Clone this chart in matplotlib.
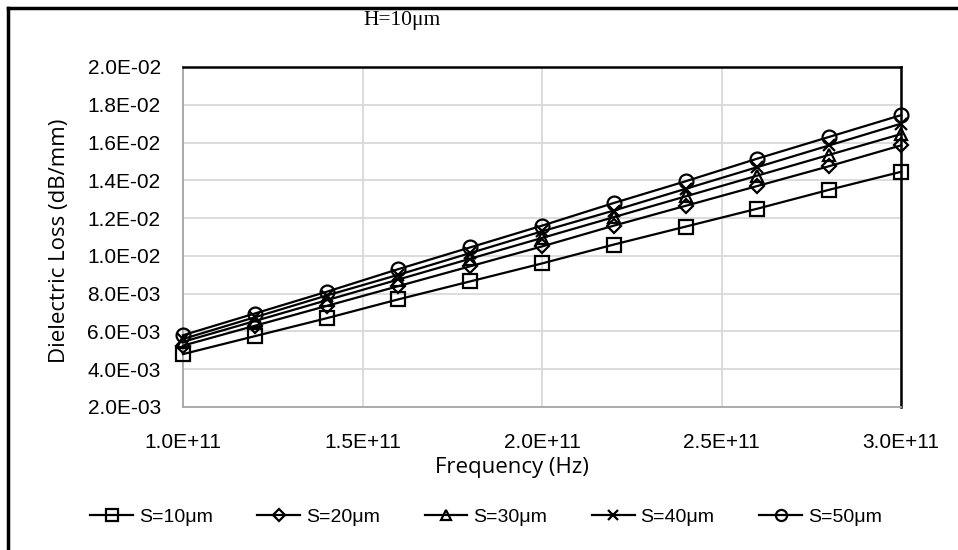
import matplotlib
matplotlib.use("Agg")
import matplotlib.pyplot as plt
from matplotlib.lines import Line2D
from matplotlib import font_manager as fm

freq = [1.0e11, 1.2e11, 1.4e11, 1.6e11, 1.8e11, 2.0e11, 2.2e11, 2.4e11, 2.6e11, 2.8e11, 3.0e11]
s10 = [4.80e-3, 5.75e-3, 6.70e-3, 7.70e-3, 8.65e-3, 9.60e-3, 10.60e-3, 11.55e-3, 12.50e-3, 13.50e-3, 14.45e-3]
s20 = [5.25e-3, 6.30e-3, 7.35e-3, 8.40e-3, 9.45e-3, 10.50e-3, 11.60e-3, 12.65e-3, 13.70e-3, 14.75e-3, 15.85e-3]
s30 = [5.45e-3, 6.55e-3, 7.65e-3, 8.75e-3, 9.85e-3, 10.95e-3, 12.05e-3, 13.15e-3, 14.25e-3, 15.35e-3, 16.45e-3]
s40 = [5.60e-3, 6.75e-3, 7.90e-3, 9.00e-3, 10.15e-3, 11.30e-3, 12.40e-3, 13.55e-3, 14.70e-3, 15.85e-3, 17.00e-3]
s50 = [5.80e-3, 6.95e-3, 8.10e-3, 9.30e-3, 10.45e-3, 11.60e-3, 12.80e-3, 13.95e-3, 15.15e-3, 16.30e-3, 17.45e-3]
series_labels = ["S=10μm", "S=20μm", "S=30μm", "S=40μm", "S=50μm"]
markers = ["s", "D", "^", "x", "o"]
x_ticks = [1.0e11, 1.5e11, 2.0e11, 2.5e11, 3.0e11]
x_ticklabels = ["1.0E+11", "1.5E+11", "2.0E+11", "2.5E+11", "3.0E+11"]
y_ticks = [2e-3, 4e-3, 6e-3, 8e-3, 10e-3, 12e-3, 14e-3, 16e-3, 18e-3, 20e-3]
y_ticklabels = ["2.0E-03", "4.0E-03", "6.0E-03", "8.0E-03", "1.0E-02",
                "1.2E-02", "1.4E-02", "1.6E-02", "1.8E-02", "2.0E-02"]
title = "H=10μm"
xlabel = "Frequency (Hz)"
ylabel = "Dielectric Loss (dB/mm)"

avail = {f.name for f in fm.fontManager.ttflist}
narrow = "Liberation Sans Narrow" if "Liberation Sans Narrow" in avail else "Liberation Sans"

fig = plt.figure(figsize=(9.58, 5.5), dpi=100)
ax = fig.add_axes([183/958, 1-407/550, (901-183)/958, (407-67)/550])

all_series = [s10, s20, s30, s40, s50]
msizes = [10, 7.5, 9, 9, 10]
for vals, lab, mk, ms in zip(all_series, series_labels, markers, msizes):
    ax.plot(freq, vals, color="black", lw=1.6, marker=mk, ms=ms,
            mfc="none", mec="black", mew=1.6, label=lab, clip_on=False, zorder=3)

ax.set_xlim(1.0e11, 3.0e11)
ax.set_ylim(2e-3, 2e-2)
ax.set_xticks(x_ticks)
ax.set_xticklabels(x_ticklabels, fontsize=15, family=narrow)
ax.set_yticks(y_ticks)
ax.set_yticklabels(y_ticklabels, fontsize=15, family=narrow)
ax.tick_params(axis="y", length=0, pad=16)
ax.tick_params(axis="x", length=0, pad=19)
ax.grid(True, color="#d9d9d9", lw=1.3)
ax.set_axisbelow(True)
for side in ["left", "bottom"]:
    ax.spines[side].set_color("#a6a6a6")
    ax.spines[side].set_linewidth(1.3)
for side in ["top", "right"]:
    ax.spines[side].set_color("black")
    ax.spines[side].set_linewidth(1.8)

fig.text(60/958, 1-241/550, ylabel, rotation=90, ha="center", va="center",
         fontsize=16, family="Open Sans")
fig.text(512/958, 1-468/550, xlabel, ha="center", va="center",
         fontsize=16, family="Open Sans")
fig.text(402/958, 1-21/550, title, ha="center", va="center",
         fontsize=15.5, family="Liberation Serif")

leg = fig.legend(loc="center", bbox_to_anchor=(486/958, 1-517/550), ncol=5,
                 frameon=False, prop={"family": narrow, "size": 14},
                 handlelength=2.2, handletextpad=0.3, columnspacing=2.3, markerscale=0.8)

fig.add_artist(Line2D([8/958, 8/958], [0, 1-8/550], color="black", lw=2.5, transform=fig.transFigure))
fig.add_artist(Line2D([8/958, 1], [1-8/550, 1-8/550], color="black", lw=2.5, transform=fig.transFigure))

fig.savefig("out.png", dpi=100)
